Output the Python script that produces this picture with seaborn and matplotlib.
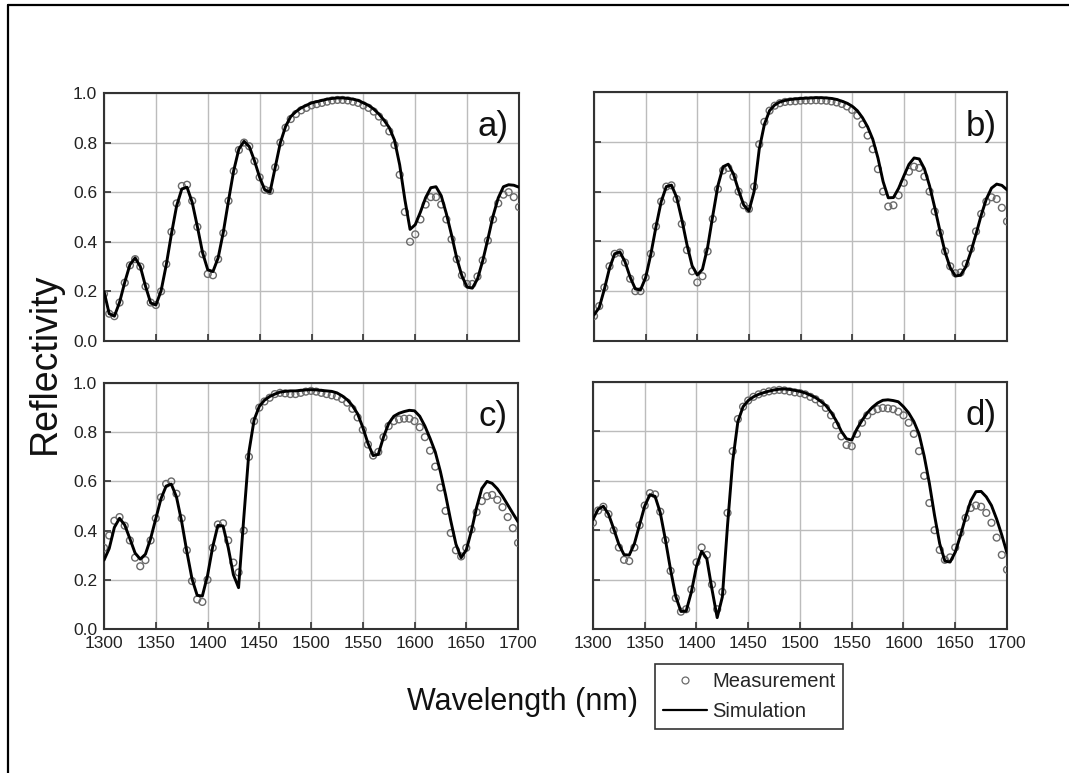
import matplotlib
matplotlib.use("Agg")
import matplotlib.pyplot as plt
from matplotlib import font_manager
from matplotlib.lines import Line2D
import seaborn as sns

sns.set_theme(style="white")
plt.rcParams["font.family"] = ["Liberation Sans", "DejaVu Sans"]

# wavelength grid (nm), shared by all four panels
wavelength = [
    1300, 1305, 1310, 1315, 1320, 1325, 1330, 1335, 1340, 1345,
    1350, 1355, 1360, 1365, 1370, 1375, 1380, 1385, 1390, 1395,
    1400, 1405, 1410, 1415, 1420, 1425, 1430, 1435, 1440, 1445,
    1450, 1455, 1460, 1465, 1470, 1475, 1480, 1485, 1490, 1495,
    1500, 1505, 1510, 1515, 1520, 1525, 1530, 1535, 1540, 1545,
    1550, 1555, 1560, 1565, 1570, 1575, 1580, 1585, 1590, 1595,
    1600, 1605, 1610, 1615, 1620, 1625, 1630, 1635, 1640, 1645,
    1650, 1655, 1660, 1665, 1670, 1675, 1680, 1685, 1690, 1695,
    1700,
]

# panel a)
sim_a = [
    0.20, 0.11, 0.10, 0.156, 0.237, 0.308, 0.335, 0.30, 0.221, 0.153,
    0.145, 0.202, 0.307, 0.432, 0.545, 0.613, 0.62, 0.559, 0.461, 0.356,
    0.287, 0.28, 0.335, 0.439, 0.566, 0.687, 0.774, 0.805, 0.784, 0.727,
    0.66, 0.609, 0.60, 0.70, 0.80, 0.865, 0.905, 0.925, 0.94, 0.95,
    0.96, 0.965, 0.97, 0.975, 0.978, 0.98, 0.98, 0.978, 0.975, 0.97,
    0.96, 0.95, 0.935, 0.915, 0.89, 0.86, 0.81, 0.71, 0.57, 0.45,
    0.469, 0.52, 0.578, 0.618, 0.622, 0.586, 0.513, 0.427, 0.334, 0.262,
    0.217, 0.213, 0.25, 0.323, 0.411, 0.504, 0.577, 0.622, 0.63, 0.628,
    0.62,
]
meas_a = [
    0.19, 0.11, 0.10, 0.155, 0.235, 0.305, 0.33, 0.30, 0.22, 0.155,
    0.145, 0.20, 0.31, 0.44, 0.555, 0.625, 0.63, 0.565, 0.46, 0.35,
    0.27, 0.265, 0.33, 0.435, 0.565, 0.685, 0.77, 0.80, 0.785, 0.725,
    0.66, 0.61, 0.605, 0.70, 0.80, 0.86, 0.895, 0.915, 0.93, 0.94,
    0.95, 0.955, 0.96, 0.965, 0.97, 0.972, 0.972, 0.97, 0.965, 0.96,
    0.95, 0.94, 0.925, 0.905, 0.88, 0.845, 0.79, 0.67, 0.52, 0.40,
    0.43, 0.49, 0.55, 0.58, 0.58, 0.55, 0.49, 0.41, 0.33, 0.265,
    0.23, 0.23, 0.26, 0.325, 0.405, 0.49, 0.555, 0.59, 0.60, 0.58,
    0.54,
]

# panel b)
sim_b = [
    0.105, 0.134, 0.208, 0.293, 0.35, 0.358, 0.318, 0.256, 0.209, 0.205,
    0.255, 0.348, 0.459, 0.559, 0.62, 0.626, 0.577, 0.488, 0.387, 0.302,
    0.265, 0.288, 0.376, 0.503, 0.624, 0.70, 0.71, 0.671, 0.605, 0.546,
    0.522, 0.60, 0.77, 0.87, 0.925, 0.948, 0.96, 0.966, 0.97, 0.972,
    0.974, 0.975, 0.976, 0.977, 0.977, 0.976, 0.974, 0.97, 0.963, 0.955,
    0.943, 0.925, 0.897, 0.86, 0.81, 0.735, 0.64, 0.575, 0.576, 0.613,
    0.662, 0.709, 0.735, 0.731, 0.692, 0.623, 0.536, 0.443, 0.357, 0.294,
    0.261, 0.264, 0.297, 0.358, 0.429, 0.505, 0.57, 0.614, 0.63, 0.625,
    0.607,
]
meas_b = [
    0.10, 0.14, 0.215, 0.30, 0.35, 0.355, 0.315, 0.25, 0.20, 0.20,
    0.255, 0.35, 0.46, 0.56, 0.62, 0.625, 0.57, 0.47, 0.365, 0.28,
    0.235, 0.26, 0.36, 0.49, 0.61, 0.685, 0.695, 0.66, 0.60, 0.545,
    0.53, 0.62, 0.79, 0.88, 0.925, 0.945, 0.955, 0.96, 0.962, 0.963,
    0.965, 0.966, 0.966, 0.967, 0.966, 0.965, 0.962, 0.958, 0.952, 0.942,
    0.928, 0.905, 0.87, 0.825, 0.77, 0.69, 0.60, 0.54, 0.545, 0.585,
    0.635, 0.68, 0.70, 0.695, 0.66, 0.60, 0.52, 0.435, 0.36, 0.30,
    0.272, 0.275, 0.31, 0.37, 0.44, 0.51, 0.56, 0.577, 0.57, 0.535,
    0.48,
]

# panel c)
sim_c = [
    0.28, 0.327, 0.413, 0.45, 0.423, 0.367, 0.309, 0.284, 0.304, 0.367,
    0.448, 0.529, 0.581, 0.589, 0.537, 0.437, 0.315, 0.204, 0.137, 0.134,
    0.217, 0.334, 0.421, 0.419, 0.331, 0.221, 0.168, 0.45, 0.72, 0.85,
    0.905, 0.93, 0.945, 0.955, 0.963, 0.966, 0.968, 0.968, 0.97, 0.972,
    0.973, 0.972, 0.97, 0.968, 0.966, 0.96, 0.948, 0.932, 0.908, 0.875,
    0.82, 0.755, 0.705, 0.71, 0.78, 0.835, 0.865, 0.877, 0.884, 0.889,
    0.887, 0.865, 0.825, 0.775, 0.72, 0.64, 0.545, 0.44, 0.345, 0.29,
    0.321, 0.40, 0.495, 0.571, 0.60, 0.592, 0.57, 0.54, 0.505, 0.47,
    0.436,
]
meas_c = [
    0.33, 0.38, 0.44, 0.455, 0.42, 0.36, 0.29, 0.255, 0.28, 0.36,
    0.45, 0.535, 0.59, 0.60, 0.55, 0.45, 0.32, 0.195, 0.12, 0.11,
    0.20, 0.33, 0.425, 0.43, 0.36, 0.27, 0.23, 0.40, 0.70, 0.845,
    0.90, 0.925, 0.94, 0.955, 0.96, 0.958, 0.955, 0.955, 0.96, 0.965,
    0.968, 0.965, 0.96, 0.955, 0.95, 0.945, 0.935, 0.92, 0.895, 0.86,
    0.81, 0.75, 0.705, 0.72, 0.78, 0.825, 0.845, 0.852, 0.855, 0.855,
    0.845, 0.82, 0.78, 0.725, 0.66, 0.575, 0.48, 0.39, 0.32, 0.295,
    0.33, 0.405, 0.475, 0.52, 0.54, 0.545, 0.525, 0.495, 0.455, 0.41,
    0.35,
]

# panel d)
sim_d = [
    0.443, 0.485, 0.497, 0.465, 0.406, 0.343, 0.301, 0.299, 0.345, 0.422,
    0.498, 0.544, 0.537, 0.471, 0.361, 0.239, 0.131, 0.071, 0.072, 0.149,
    0.253, 0.315, 0.284, 0.16, 0.046, 0.13, 0.42, 0.68, 0.84, 0.90,
    0.925, 0.94, 0.95, 0.957, 0.963, 0.968, 0.971, 0.972, 0.97, 0.966,
    0.962, 0.956, 0.947, 0.937, 0.922, 0.905, 0.878, 0.843, 0.80, 0.77,
    0.765, 0.81, 0.845, 0.875, 0.898, 0.915, 0.926, 0.928, 0.925, 0.92,
    0.90, 0.875, 0.84, 0.79, 0.70, 0.59, 0.46, 0.345, 0.275, 0.271,
    0.311, 0.378, 0.453, 0.519, 0.556, 0.557, 0.535, 0.50, 0.445, 0.38,
    0.308,
]
meas_d = [
    0.43, 0.48, 0.495, 0.465, 0.40, 0.33, 0.28, 0.275, 0.33, 0.42,
    0.50, 0.55, 0.545, 0.475, 0.36, 0.235, 0.125, 0.07, 0.08, 0.16,
    0.27, 0.33, 0.30, 0.18, 0.08, 0.15, 0.47, 0.72, 0.85, 0.90,
    0.925, 0.94, 0.95, 0.957, 0.962, 0.966, 0.968, 0.966, 0.962, 0.958,
    0.955, 0.95, 0.94, 0.93, 0.915, 0.895, 0.865, 0.825, 0.78, 0.745,
    0.74, 0.79, 0.835, 0.865, 0.882, 0.89, 0.895, 0.893, 0.89, 0.88,
    0.865, 0.835, 0.79, 0.72, 0.62, 0.51, 0.40, 0.32, 0.28, 0.29,
    0.33, 0.39, 0.45, 0.49, 0.50, 0.495, 0.47, 0.43, 0.37, 0.30,
    0.24,
]

x_ticks = [1300, 1350, 1400, 1450, 1500, 1550, 1600, 1650, 1700]
y_ticks = [0.0, 0.2, 0.4, 0.6, 0.8, 1.0]

panels = [
    ("a)", sim_a, meas_a, [0.0973, 0.5589, 0.3882, 0.3208], True, False),
    ("b)", sim_b, meas_b, [0.5557, 0.5589, 0.3863, 0.3221], False, False),
    ("c)", sim_c, meas_c, [0.0973, 0.1863, 0.3873, 0.3182], True, True),
    ("d)", sim_d, meas_d, [0.5547, 0.1863, 0.3873, 0.3195], False, True),
]

# the axis titles look like a narrow Arial in the original
font_names = {f.name for f in font_manager.fontManager.ttflist}
if "Liberation Sans Narrow" in font_names:
    title_font, xlabel_size, legend_size = "Liberation Sans Narrow", 26, 16.5
else:
    title_font, xlabel_size, legend_size = "Liberation Sans", 22, 14.5

meas_color = "#6a6a6a"
fig = plt.figure(figsize=(10.69, 7.73), dpi=100)

for label, sim, meas, pos, show_y, show_x in panels:
    ax = fig.add_axes(pos)
    sns.scatterplot(x=wavelength, y=meas, ax=ax, marker="o", s=24,
                    facecolor="none", edgecolor=meas_color, linewidth=1.0,
                    zorder=3, legend=False)
    sns.lineplot(x=wavelength, y=sim, ax=ax, color="black", linewidth=2.1,
                 zorder=4, legend=False)
    ax.set_xlim(1300, 1700)
    ax.set_ylim(0, 1.0)
    ax.set_xticks(x_ticks)
    ax.set_yticks(y_ticks)
    ax.set_yticklabels([f"{v:.1f}" for v in y_ticks] if show_y else [])
    if not show_x:
        ax.set_xticklabels([])
    ax.set_xlabel("")
    ax.set_ylabel("")
    ax.grid(True, color="#bcbcbc", linewidth=1.0)
    ax.set_axisbelow(True)
    ax.tick_params(direction="in", length=5, width=1.2, color="#333333",
                   labelsize=12.5, labelcolor="#222222", pad=5,
                   left=True, bottom=True)
    for sp in ax.spines.values():
        sp.set_color("#333333")
        sp.set_linewidth(1.5)
    ax.text(0.975, 0.863, label, transform=ax.transAxes, ha="right",
            va="center", fontsize=25, color="#111111")

fig.text(0.042, 0.530, "Reflectivity", rotation=90, ha="center",
         va="center", fontsize=27, color="#111111")
fig.text(0.489, 0.092, "Wavelength (nm)", ha="center", va="center",
         fontsize=xlabel_size, family=title_font, color="#111111")

handles = [
    Line2D([], [], linestyle="none", marker="o", markersize=5,
           markerfacecolor="none", markeredgecolor=meas_color,
           markeredgewidth=0.9),
    Line2D([], [], color="black", linewidth=1.6),
]
leg = fig.legend(handles, ["Measurement", "Simulation"], loc="center",
                 bbox_to_anchor=(0.7007, 0.099), frameon=True,
                 fancybox=False, framealpha=1, edgecolor="#333333",
                 handlelength=2.2, handletextpad=0.25, labelspacing=0.55,
                 borderpad=0.4, prop={"family": title_font,
                                      "size": legend_size})
leg.get_frame().set_linewidth(1.2)

# frame lines along the left and top edge of the picture
fig.add_artist(Line2D([0.0075, 0.0075], [0.0, 0.9935],
                      transform=fig.transFigure, color="black", linewidth=1.6))
fig.add_artist(Line2D([0.0075, 1.0], [0.9935, 0.9935],
                      transform=fig.transFigure, color="black", linewidth=1.6))

fig.savefig("out.png", dpi=100)
